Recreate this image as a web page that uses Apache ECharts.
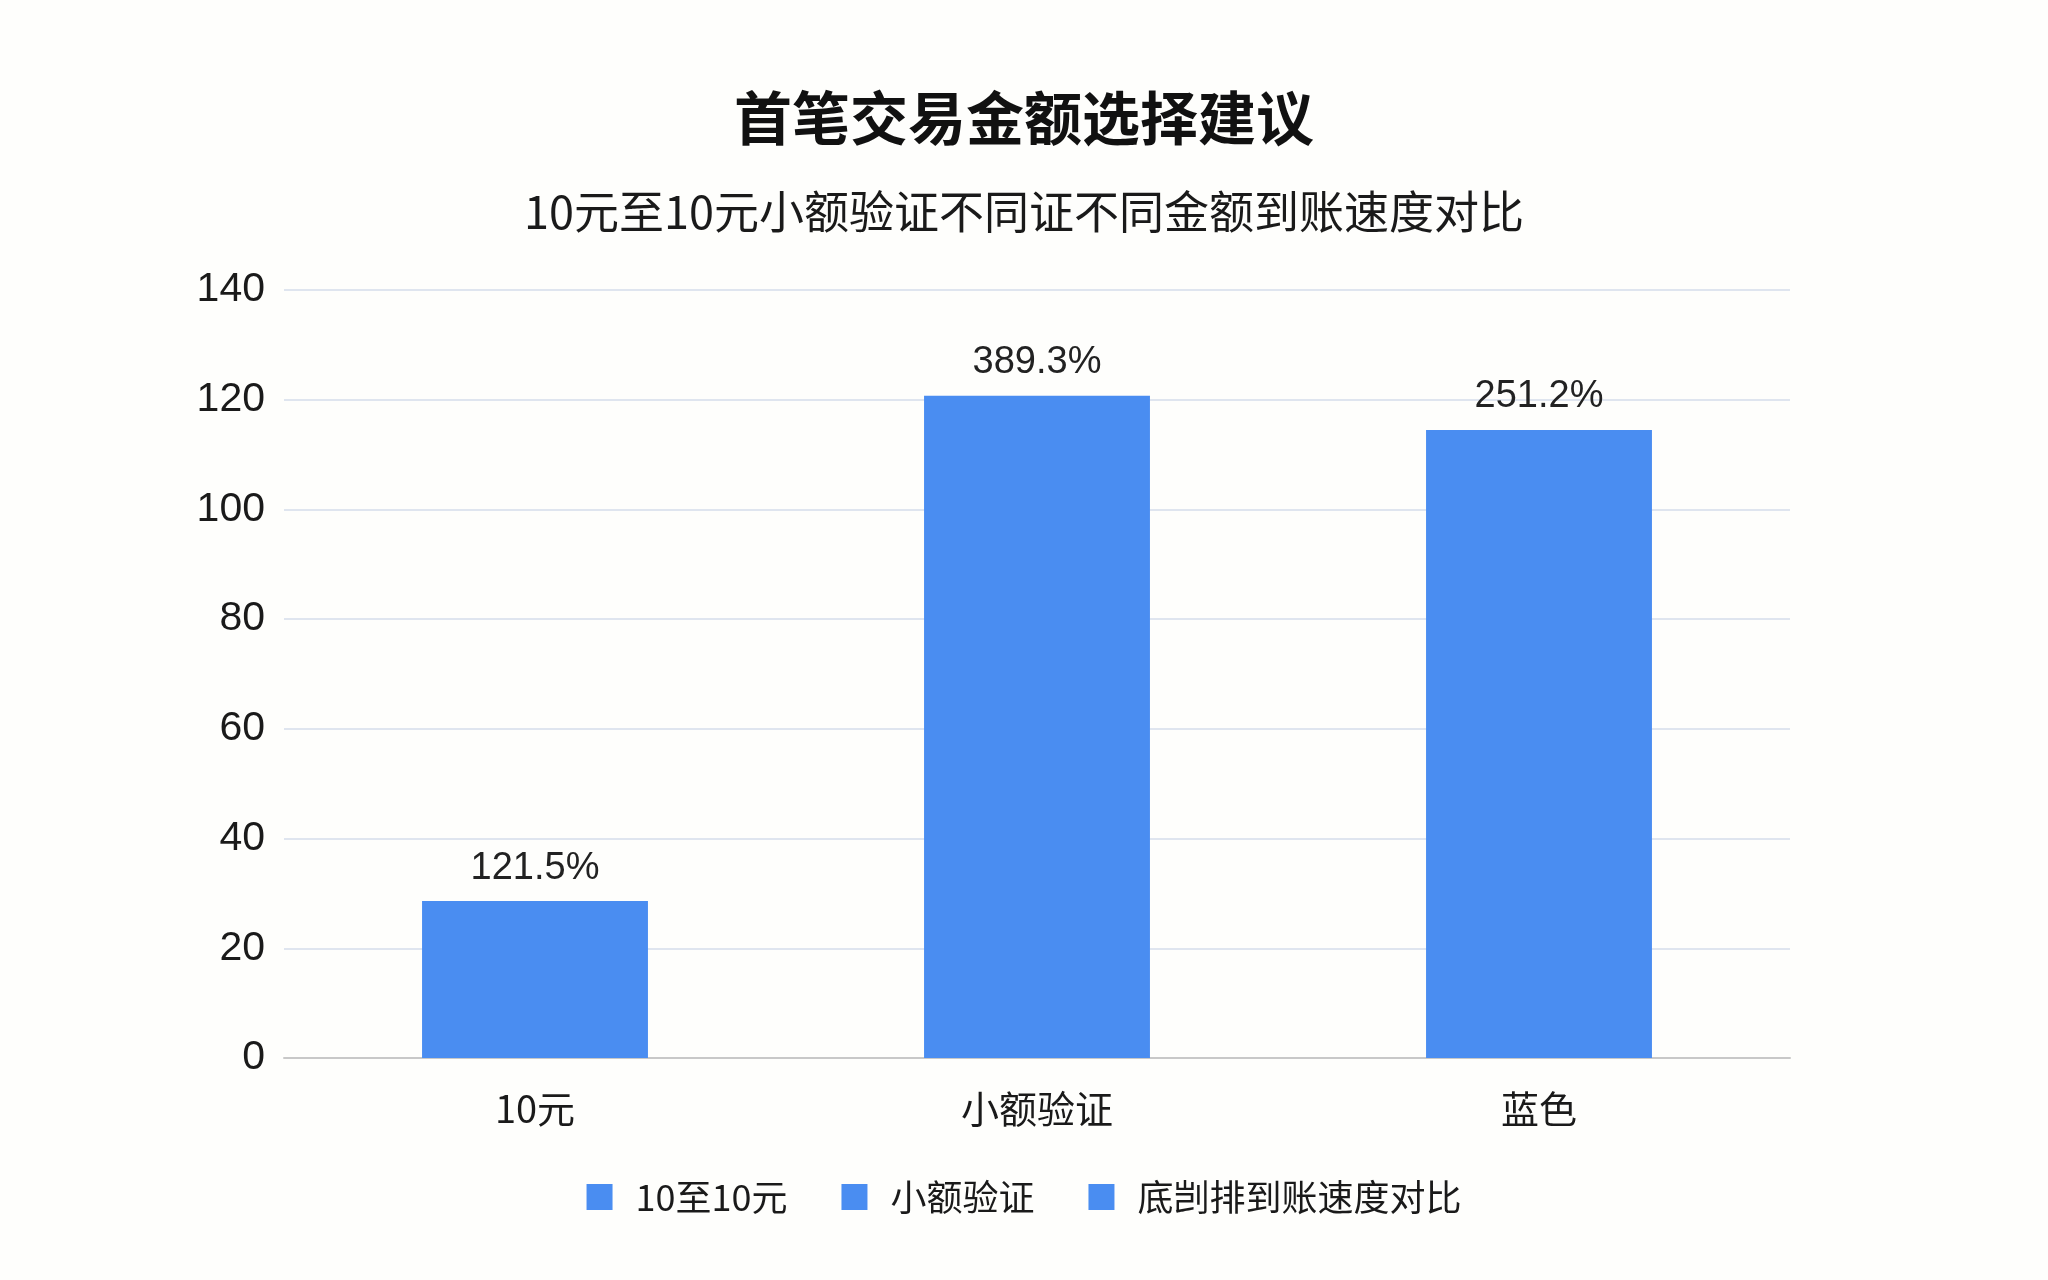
<!DOCTYPE html>
<html><head><meta charset="utf-8">
<script src="https://cdn.jsdelivr.net/npm/echarts@6/dist/echarts.min.js"></script>
<style>html,body{margin:0;padding:0;background:#fff}#c{width:2048px;height:1280px}</style>
</head><body><div id="c"></div>
<script>
const categories = ['10元', '小额验证', '蓝色'];
const values = [28.6, 120.7, 114.5];
const barLabels = ['121.5%', '389.3%', '251.2%'];
const seriesNames = ['10至10元', '小额验证', '底剀排到账速度对比'];
const yTicks = [0, 20, 40, 60, 80, 100, 120, 140];

const font = '"Noto Sans CJK SC","Liberation Sans",sans-serif';
const chart = echarts.init(document.getElementById('c'));
chart.setOption({
  backgroundColor: '#fefefc',
  title: [
    {text: '首笔交易金额选择建议', left: 'center', top: 84,
     textStyle: {fontSize: 58, fontWeight: 'bold', color: '#111', fontFamily: font}},
    {text: '10元至10元小额验证不同证不同金额到账速度对比', left: 'center', top: 184,
     textStyle: {fontSize: 45, fontWeight: 'normal', color: '#1a1a1a', fontFamily: font}}
  ],
  legend: {
    bottom: 60, left: 'center', itemWidth: 26, itemHeight: 26, itemGap: 54, icon: 'rect',
    textStyle: {fontSize: 36, color: '#1a1a1a', fontFamily: font, padding: [0, 0, 0, 18]},
    data: seriesNames
  },
  grid: {left: 284, right: 258, top: 290, bottom: 222},
  xAxis: {
    type: 'category', data: categories,
    axisLine: {lineStyle: {color: '#c8c8c8', width: 2}},
    axisTick: {show: false},
    axisLabel: {fontSize: 38, color: '#1a1a1a', margin: 32, fontFamily: font}
  },
  yAxis: {
    type: 'value', min: yTicks[0], max: yTicks[yTicks.length - 1], interval: 20,
    axisLine: {show: false}, axisTick: {show: false},
    axisLabel: {fontSize: 41, color: '#1a1a1a', margin: 19, fontFamily: '"Liberation Sans",sans-serif'},
    splitLine: {lineStyle: {color: '#dfe5ef', width: 2}}
  },
  series: seriesNames.map((name, i) => ({
    name: name, type: 'bar', stack: 'all', barWidth: '45%',
    itemStyle: {color: '#4a8df1'},
    label: {show: true, position: 'top', distance: 14, fontSize: 38, color: '#222',
            fontFamily: '"Liberation Sans",sans-serif',
            formatter: p => barLabels[p.dataIndex]},
    data: categories.map((c, j) => j === i ? values[j] : '-')
  }))
});
</script></body></html>
